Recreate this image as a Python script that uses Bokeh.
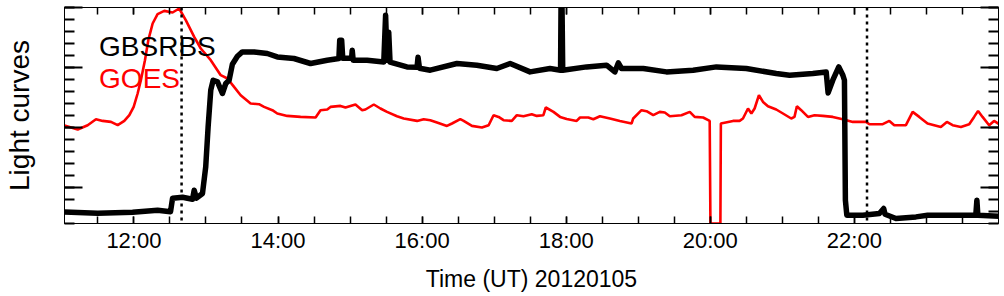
from bokeh.plotting import figure
from bokeh.models import Range1d, LinearAxis, FixedTicker, Span, Label, CustomJSTickFormatter
from bokeh.embed import file_html
from bokeh.resources import INLINE

# ---- data (time in minutes after 11:00 UT, values in arbitrary units) ----
goes_min = [2.2, 13.2, 21.5, 28.4, 34.0, 40.9, 46.5, 52.0, 56.2, 59.8,
            63.1, 65.8, 69.2, 72.0, 75.6, 79.7, 85.3, 92.2, 97.7, 103.2,
            110.2, 115.7, 124.0, 132.3, 137.9, 143.4, 148.9, 157.2, 164.2, 168.4,
            175.3, 179.4, 187.7, 198.8, 211.3, 215.4, 221.0, 223.7, 232.0, 236.2,
            244.5, 250.1, 252.8, 259.8, 265.3, 270.8, 279.1, 284.7, 295.8, 301.3,
            306.8, 312.4, 320.7, 324.9, 331.8, 334.6, 341.5, 349.8, 355.4, 359.5,
            363.7, 367.8, 374.7, 378.9, 384.4, 391.3, 395.5, 401.0, 403.0, 409.4,
            414.9, 420.4, 428.7, 431.5, 438.4, 442.6, 448.1, 456.4, 464.7, 474.4,
            475.8, 482.7, 486.9, 492.5, 497.9, 502.1, 506.3, 516.0, 522.9, 527.0,
            534.0, 539.5, 540.1, 548.4, 548.8, 558.9, 564.4, 567.2, 571.4, 574.2,
            576.9, 580.5, 583.9, 588.0, 594.9, 600.5, 607.4, 610.1, 612.1, 615.7,
            621.3, 626.8, 633.7, 642.0, 650.3, 658.7, 669.7, 672.5, 683.6, 689.1,
            693.2, 702.9, 708.5, 714.0, 720.9, 732.0, 737.0, 741.8, 748.7, 755.6,
            759.7, 763.0, 766.7, 772.2, 776.3, 780.5]
goes_val = [98.0, 94.0, 98.3, 104.3, 102.6, 101.6, 98.3, 102.6, 108.3, 116.6,
            130, 143.3, 163.3, 183.3, 200, 209.3, 212.6, 211, 215, 203.3,
            186.6, 175, 163.3, 148.3, 145, 136.6, 128.3, 120, 119.3, 116.6,
            113.3, 110, 107.6, 106.6, 106, 113.3, 114, 116.6, 117.6, 116,
            119, 113.3, 114, 119, 115, 111.6, 107.3, 105, 102.6, 104.3,
            103.3, 101, 97.6, 100, 104.3, 102.6, 97.6, 96, 98.3, 108.3,
            106.6, 103.3, 102.6, 108.3, 107.3, 109.3, 107.6, 108.3, 116, 111.6,
            106.6, 104.6, 102.6, 106, 106, 104.3, 107.3, 105, 102.6, 100,
            105, 113.3, 112.3, 108.3, 111.6, 111, 107.3, 108.3, 111.6, 106.6,
            106, 102.6, 0, 0, 100, 102.6, 102.6, 105, 115, 110,
            115, 128.3, 121.6, 117.3, 114, 110, 105, 106.6, 117.3, 113.3,
            106.6, 108.3, 107.6, 106.6, 104.3, 101.6, 101.6, 99.3, 99.3, 102.6,
            98.3, 98.3, 111.6, 106.6, 100, 96.6, 101.6, 98.3, 96.6, 99.3,
            106.6, 112.6, 106.6, 98.3, 102.6, 99.3]

gbs_min = [2.2, 29.8, 58.9, 79.7, 90.5, 92.2, 100.5, 108.8, 110.2, 112.1,
           117.1, 119.8, 121.8, 124.0, 126.0, 129.6, 133.7, 136.5, 139.3, 142.0,
           146.2, 150.3, 160.1, 171.1, 179.4, 193.3, 207.1, 221.0, 230.7, 231.4,
           233.0, 233.9, 241.3, 241.8, 242.6, 254.2, 268.1, 269.6, 270.8, 272.2,
           273.3, 287.4, 295.8, 296.6, 297.8, 306.8, 329.0, 345.6, 362.2, 373.3,
           389.9, 406.5, 415.3, 415.7, 416.5, 417.1, 437.0, 453.6, 460.5, 463.4,
           466.1, 484.2, 503.5, 525.7, 545.1, 570.0, 594.9, 606.0, 625.4, 636.5,
           638.1, 642.0, 647.0, 650.4, 651.7, 652.5, 653.7, 667.0, 680.8, 684.4,
           685.5, 694.6, 711.3, 721.0, 748.7, 761.1, 762.0, 762.8, 780.5]
gbs_val = [11.6, 10.3, 11.3, 13.3, 11.8, 25.3, 26.3, 24.3, 33.3, 25.3,
           30, 56.6, 96.6, 133.3, 143.3, 141.6, 130, 140, 143.3, 159.3,
           167.3, 171.6, 171.6, 170, 166.6, 165, 160, 163.3, 165, 183.3,
           183.3, 165.3, 165.3, 173.3, 163.3, 163.3, 161.6, 208.3, 163.3, 191.3,
           161.3, 156.6, 156.3, 166.3, 155.3, 153.3, 160, 158.3, 155, 160,
           151.6, 155, 153.3, 220, 220, 153.3, 156.6, 158.3, 151.6, 160.6,
           155, 155, 151.6, 153.3, 156.6, 155, 150, 148.3, 150, 151.6,
           130.6, 143.3, 156.6, 148.3, 143.3, 23.3, 8.3, 8.3, 10, 15,
           9.3, 5, 6.6, 8.3, 8.3, 8.3, 23.3, 8.3, 7.3]

event_min = [99.7, 670.5]

tick_hours = [12, 14, 16, 18, 20, 22]
tick_labels = ["12:00", "14:00", "16:00", "18:00", "20:00", "22:00"]
minor_hours = [11.5 + 0.5 * i for i in range(25)]
y_major = [36, 96, 156, 216]
y_minor = [12 * i for i in range(19)]


def to_hours(mins):
    return [11 + m / 60.0 for m in mins]


FONT = "Liberation Sans"

p = figure(width=1004, height=296, output_backend="svg", toolbar_location=None,
           x_range=Range1d(11 + 2.2 / 60.0, 24.0), y_range=Range1d(0, 216),
           min_border_left=62, min_border_right=6, min_border_top=7, min_border_bottom=73,
           x_axis_location="below", y_axis_location="left")
p.background_fill_color = "white"
p.border_fill_color = "white"
p.outline_line_color = "black"
p.outline_line_width = 1
p.grid.visible = False

# data
p.line(to_hours(goes_min), goes_val, line_color="#ff0000", line_width=2.6)
p.line(to_hours(gbs_min), gbs_val, line_color="black", line_width=5.5, line_join="round")

for m in event_min:
    p.add_layout(Span(location=11 + m / 60.0, dimension="height", line_color="black",
                      line_width=2.5, line_dash="3 4"))

# legend texts
p.add_layout(Label(x=11 + 31.0 / 60.0, y=176.6, text="GBSRBS", text_color="black",
                   text_font=FONT, text_font_size="28px", text_baseline="alphabetic"))
p.add_layout(Label(x=11 + 31.0 / 60.0, y=145.0, text="GOES", text_color="#ff0000",
                   text_font=FONT, text_font_size="28px", text_baseline="alphabetic"))

blank = CustomJSTickFormatter(code="return ''")

# x axes
xt = FixedTicker(ticks=tick_hours, minor_ticks=minor_hours)
xa = p.xaxis[0]
xa.ticker = xt
xa.major_label_overrides = {h: l for h, l in zip(tick_hours, tick_labels)}
xa.axis_label = "Time (UT) 20120105"
xtop = LinearAxis(ticker=FixedTicker(ticks=tick_hours, minor_ticks=minor_hours), formatter=blank)
p.add_layout(xtop, "above")
for ax in (xa, xtop):
    ax.major_tick_in = 7
    ax.major_tick_out = 0
    ax.minor_tick_in = 7
    ax.minor_tick_out = 0
    ax.major_tick_line_width = 1.5
    ax.minor_tick_line_width = 1.5
    ax.axis_line_color = "black"
    ax.major_tick_line_color = "black"
    ax.minor_tick_line_color = "black"
xa.major_label_text_font = FONT
xa.major_label_text_font_size = "22px"
xa.major_label_text_color = "black"
xa.major_label_standoff = 4
xa.axis_label_text_font = FONT
xa.axis_label_text_font_size = "23px"
xa.axis_label_text_font_style = "normal"
xa.axis_label_text_color = "black"
xa.axis_label_standoff = 10

# y axes
ya = p.yaxis[0]
ya.ticker = FixedTicker(ticks=y_major, minor_ticks=y_minor)
ya.formatter = blank
ya.axis_label = "Light curves"
yright = LinearAxis(ticker=FixedTicker(ticks=y_major, minor_ticks=y_minor), formatter=blank)
p.add_layout(yright, "right")
for ax in (ya, yright):
    ax.major_tick_in = 18
    ax.major_tick_out = 0
    ax.minor_tick_in = 10
    ax.minor_tick_out = 0
    ax.major_tick_line_width = 2
    ax.minor_tick_line_width = 2
    ax.axis_line_color = "black"
    ax.major_tick_line_color = "black"
    ax.minor_tick_line_color = "black"
    ax.major_label_standoff = 0
ya.axis_label_text_font = FONT
ya.axis_label_text_font_size = "28px"
ya.axis_label_text_font_style = "normal"
ya.axis_label_text_color = "black"
ya.axis_label_standoff = 30

open("out.html", "w").write(file_html(p, INLINE))
